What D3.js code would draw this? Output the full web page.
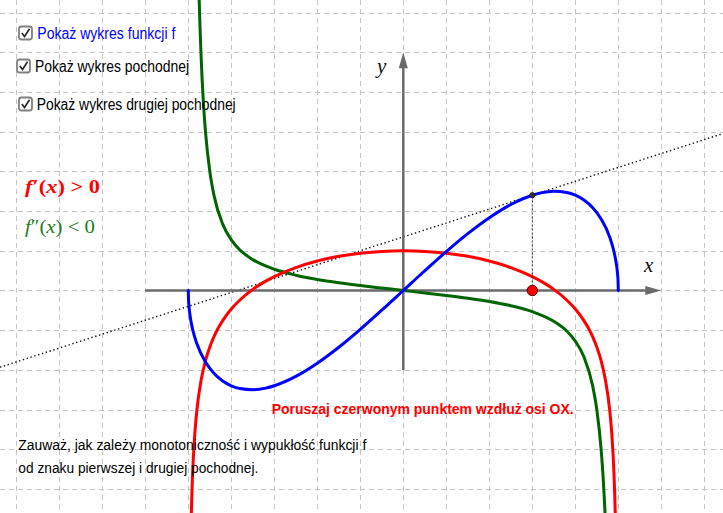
<!DOCTYPE html>
<html>
<head>
<meta charset="utf-8">
<script src="https://cdn.jsdelivr.net/npm/d3@7"></script>
<style>
  html, body { margin: 0; padding: 0; background: #ffffff; }
  svg { display: block; }
</style>
</head>
<body>
<svg id="chart" width="723" height="513"></svg>
<script>
// ---------------- data ----------------
// f(x) – blue
const fX = [-5, -4.995, -4.98, -4.95, -4.9, -4.8, -4.6, -4.4, -4.2, -4, -3.8, -3.5, -3.2, -3, -2.5, -2, -1.5, -1, -0.5, 0,
            0.5, 1, 1.5, 2, 2.5, 3, 3.2, 3.5, 3.8, 4, 4.2, 4.4, 4.6, 4.8, 4.9, 4.95, 4.98, 4.995, 5];
const fY = [0, -0.223, -0.445, -0.698, -0.975, -1.344, -1.803, -2.090, -2.279, -2.4, -2.470, -2.499, -2.459, -2.4, -2.165, -1.833, -1.431, -0.980, -0.497, 0,
            0.497, 0.980, 1.431, 1.833, 2.165, 2.4, 2.459, 2.499, 2.470, 2.4, 2.279, 2.090, 1.803, 1.344, 0.975, 0.698, 0.445, 0.223, 0];
// f'(x) – red
const d1X = [-4.97, -4.95, -4.93, -4.9, -4.85, -4.8, -4.7, -4.6, -4.5, -4.4, -4.3, -4.2, -4, -3.8, -3.5, -3.25, -3, -2.5, -2, -1.5, -1, -0.5, 0,
             0.5, 1, 1.5, 2, 2.5, 3, 3.25, 3.5, 3.8, 4, 4.2, 4.3, 4.4, 4.5, 4.6, 4.7, 4.8, 4.85, 4.9, 4.93, 4.95, 4.97];
const d1Y = [-8.92, -6.806, -5.66, -4.627, -3.627, -3.011, -2.249, -1.768, -1.422, -1.155, -0.939, -0.758, -0.467, -0.239, 0.028, 0.204, 0.35, 0.577, 0.742, 0.860, 0.939, 0.985, 1,
             0.985, 0.939, 0.860, 0.742, 0.577, 0.35, 0.204, 0.028, -0.239, -0.467, -0.758, -0.939, -1.155, -1.422, -1.768, -2.249, -3.011, -3.627, -4.627, -5.66, -6.806, -8.92];
// f''(x) – green
const d2X = [-4.85, -4.8, -4.75, -4.7, -4.65, -4.6, -4.5, -4.4, -4.2, -4, -3.8, -3.5, -3, -2.5, -2, -1.5, -1, -0.5, 0,
             0.5, 1, 1.5, 2, 2.5, 3, 3.5, 3.8, 4, 4.2, 4.4, 4.5, 4.6, 4.65, 4.7, 4.75, 4.8, 4.85];
const d2Y = [15.1, 10.12, 7.457, 5.836, 4.757, 3.996, 2.999, 2.384, 1.671, 1.274, 1.021, 0.777, 0.534, 0.385, 0.2785, 0.195, 0.124, 0.0605, 0,
             -0.0605, -0.124, -0.195, -0.2785, -0.385, -0.534, -0.777, -1.021, -1.274, -1.671, -2.384, -2.999, -3.996, -4.757, -5.836, -7.457, -10.12, -15.1];
// moving point and its tangent
const pointX = [3];
const pointF = [2.4];
const pointSlope = [0.35];
// grid / axes extents
const gridXTicks = [-9, -8, -7, -6, -5, -4, -3, -2, -1, 0, 1, 2, 3, 4, 5, 6, 7];
const gridYTicks = [-5, -4, -3, -2, -1, 0, 1, 2, 3, 4, 5, 6, 7];
const xAxisExtent = [-6, 6];
const yAxisExtent = [-2, 6];
const xDomain = [-9.379, 7.435];
const yDomain = [-5.605, 7.317];
// texts
const checkboxLabels = ["Pokaż wykres funkcji f", "Pokaż wykres pochodnej", "Pokaż wykres drugiej pochodnej"];
const infoLines = ["Zauważ, jak zależy monotoniczność i wypukłość funkcji f", "od znaku pierwszej i drugiej pochodnej."];
const moveText = "Poruszaj czerwonym punktem wzdłuż osi OX.";

// ---------------- drawing ----------------
const W = 723, H = 513;
const svg = d3.select("#chart");
const x = d3.scaleLinear().domain(xDomain).range([0, W]);
const y = d3.scaleLinear().domain(yDomain).range([H, 0]);

svg.append("defs").append("clipPath").attr("id", "clip")
  .append("rect").attr("x", 0).attr("y", 0).attr("width", W).attr("height", H);

// grid
const grid = svg.append("g").attr("stroke", "#c4c4c4").attr("stroke-width", 1).attr("stroke-dasharray", "5,4");
grid.selectAll("line.v").data(gridXTicks).join("line").attr("class", "v")
  .attr("x1", d => Math.round(x(d)) + 0.5).attr("x2", d => Math.round(x(d)) + 0.5)
  .attr("y1", 0).attr("y2", H);
grid.selectAll("line.h").data(gridYTicks).join("line").attr("class", "h")
  .attr("y1", d => Math.round(y(d)) + 0.5).attr("y2", d => Math.round(y(d)) + 0.5)
  .attr("x1", 0).attr("x2", W);

// tangent line (dotted)
const tx0 = xDomain[0], tx1 = xDomain[1];
const tangentF = t => pointF[0] + pointSlope[0] * (t - pointX[0]);
svg.append("line")
  .attr("x1", x(tx0)).attr("y1", y(tangentF(tx0)))
  .attr("x2", x(tx1)).attr("y2", y(tangentF(tx1)))
  .attr("stroke", "#111").attr("stroke-width", 1.4).attr("stroke-dasharray", "1.4,2.6");

// axes
const axisColor = "#6a6a6a";
const axes = svg.append("g");
axes.append("line")
  .attr("x1", x(xAxisExtent[0])).attr("x2", x(xAxisExtent[1]) - 12)
  .attr("y1", y(0)).attr("y2", y(0))
  .attr("stroke", axisColor).attr("stroke-width", 2.5);
axes.append("path")
  .attr("d", `M${x(xAxisExtent[1])},${y(0)} L${x(xAxisExtent[1]) - 16},${y(0) - 4.5} L${x(xAxisExtent[1]) - 16},${y(0) + 4.5} Z`)
  .attr("fill", axisColor);
axes.append("line")
  .attr("x1", x(0)).attr("x2", x(0))
  .attr("y1", y(yAxisExtent[0])).attr("y2", y(yAxisExtent[1]) + 12)
  .attr("stroke", axisColor).attr("stroke-width", 2.5);
axes.append("path")
  .attr("d", `M${x(0)},${y(yAxisExtent[1])} L${x(0) - 4.5},${y(yAxisExtent[1]) + 16} L${x(0) + 4.5},${y(yAxisExtent[1]) + 16} Z`)
  .attr("fill", axisColor);

// axis labels
svg.append("text").attr("x", 377).attr("y", 73)
  .attr("font-family", "'Liberation Serif', 'DejaVu Serif', serif").attr("font-style", "italic")
  .attr("font-size", 21).attr("fill", "#111").text("y");
svg.append("text").attr("x", 644).attr("y", 272)
  .attr("font-family", "'Liberation Serif', 'DejaVu Serif', serif").attr("font-style", "italic")
  .attr("font-size", 21).attr("fill", "#111").text("x");

// curves
const line = d3.line().x(d => x(d[0])).y(d => y(d[1])).curve(d3.curveMonotoneX);
const curves = svg.append("g").attr("clip-path", "url(#clip)").attr("fill", "none").attr("stroke-width", 3)
  .attr("stroke-linejoin", "round").attr("stroke-linecap", "round");
curves.append("path").attr("d", line(d2X.map((v, i) => [v, d2Y[i]]))).attr("stroke", "#006400");
curves.append("path").attr("d", line(d1X.map((v, i) => [v, d1Y[i]]))).attr("stroke", "#ff0000");
curves.append("path").attr("d", line(fX.map((v, i) => [v, fY[i]]))).attr("stroke", "#0000ff");

// vertical dotted segment from the point on the axis to the curve
svg.append("line")
  .attr("x1", x(pointX[0])).attr("x2", x(pointX[0]))
  .attr("y1", y(0)).attr("y2", y(pointF[0]))
  .attr("stroke", "#333").attr("stroke-width", 1).attr("stroke-dasharray", "2,2");

// point on f
svg.append("circle").attr("cx", x(pointX[0])).attr("cy", y(pointF[0])).attr("r", 2.6)
  .attr("fill", "#333").attr("stroke", "#111").attr("stroke-width", 0.8);
// red movable point
svg.append("circle").attr("cx", x(pointX[0])).attr("cy", y(0)).attr("r", 5.2)
  .attr("fill", "#ff0000").attr("stroke", "#550000").attr("stroke-width", 1);

// checkboxes
const cbBoxes = [[19, 26.5], [17, 59.5], [19, 97.5]];
const cbText = [[37.3, 38.5, 138, "#0000ff"], [35, 72, 154, "#000"], [36.7, 110, 199, "#000"]];
const cb = svg.append("g");
cbBoxes.forEach((b, i) => {
  cb.append("rect").attr("x", b[0]).attr("y", b[1]).attr("width", 13).attr("height", 13).attr("rx", 2.5)
    .attr("fill", "#fff").attr("stroke", "#808080").attr("stroke-width", 1.8);
  cb.append("path").attr("d", `M${b[0] + 2.8},${b[1] + 6.5} L${b[0] + 5.5},${b[1] + 10} L${b[0] + 10.5},${b[1] + 2.3}`)
    .attr("fill", "none").attr("stroke", "#2a2a2a").attr("stroke-width", 1.7);
  cb.append("text").attr("x", cbText[i][0]).attr("y", cbText[i][1])
    .attr("font-family", "'Liberation Sans', Arial, sans-serif").attr("font-size", 16)
    .attr("fill", cbText[i][3]).attr("textLength", cbText[i][2]).attr("lengthAdjust", "spacingAndGlyphs")
    .text(checkboxLabels[i]);
});

// math labels
function mathLabel(px, py, primes, rel, color, bold, len) {
  const t = svg.append("text").attr("x", px).attr("y", py)
    .attr("font-family", "'Liberation Serif', 'DejaVu Serif', serif").attr("font-size", 18)
    .attr("fill", color).attr("font-weight", bold ? "bold" : "normal")
    .attr("textLength", len).attr("lengthAdjust", "spacingAndGlyphs");
  t.append("tspan").attr("font-style", "italic").text("f");
  t.append("tspan").text(primes + "(");
  t.append("tspan").attr("font-style", "italic").text("x");
  t.append("tspan").text(") " + rel + " 0");
}
mathLabel(25, 193, "\u2032", ">", "#ff0000", true, 75);
mathLabel(25, 233, "\u2033", "<", "#237a23", false, 70);

// red instruction
svg.append("text").attr("x", 271.7).attr("y", 414)
  .attr("font-family", "'Liberation Sans', Arial, sans-serif").attr("font-size", 15.5).attr("font-weight", "bold")
  .attr("fill", "#ff0000").attr("textLength", 302).attr("lengthAdjust", "spacingAndGlyphs")
  .text(moveText);

// info lines
const infoPos = [[18.3, 449.5, 348], [18.3, 472.5, 240]];
infoLines.forEach((s, i) => {
  svg.append("text").attr("x", infoPos[i][0]).attr("y", infoPos[i][1])
    .attr("font-family", "'Liberation Sans', Arial, sans-serif").attr("font-size", 15.5)
    .attr("fill", "#000").attr("textLength", infoPos[i][2]).attr("lengthAdjust", "spacingAndGlyphs")
    .text(s);
});
</script>
</body>
</html>
